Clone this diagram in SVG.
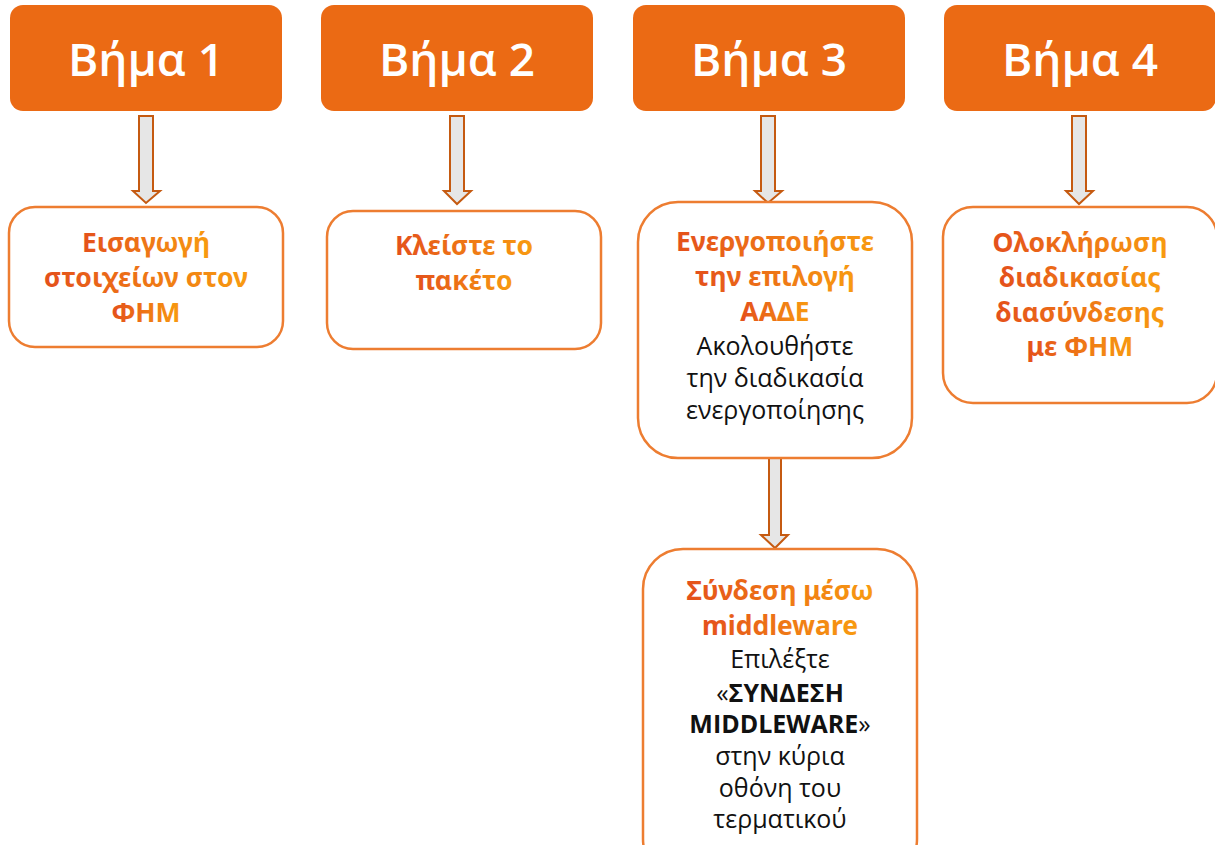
<svg xmlns="http://www.w3.org/2000/svg" width="1215" height="845" viewBox="0 0 1215 845">
<defs>
<linearGradient id="og" x1="0" y1="0" x2="1" y2="0">
<stop offset="0" stop-color="#E4501B"/>
<stop offset="1" stop-color="#F89B10"/>
</linearGradient>
<style>
.hdr{fill:#EB6A14}
.htx{font-family:"Open Sans","Noto Sans",sans-serif;font-size:46px;font-weight:600;fill:#fff;text-anchor:middle}
.box{fill:#fff;stroke:#ED7D31;stroke-width:2.5}
.arr{fill:#E6E6E6;stroke:#C55A11;stroke-width:2}
.ot{font-family:"Noto Sans","Open Sans",sans-serif;font-weight:bold;font-size:26.5px;fill:url(#og);text-anchor:middle}
.bt{font-family:"Open Sans","Noto Sans",sans-serif;font-size:25px;fill:#111;text-anchor:middle}
.bb{font-weight:bold}
</style>
</defs>
<g id="connectors">
<path class="arr" d="M139,116 h14 v75 h7 L146,203 L133,191 h6 Z"/>
<path class="arr" d="M450,116 h14 v75 h7 L457,204 L444,191 h6 Z"/>
<path class="arr" d="M761,116 h14 v75 h7 L768,203 L755,191 h6 Z"/>
<path class="arr" d="M1072,116 h14 v75 h7 L1079,204 L1066,191 h6 Z"/>
<path class="arr" d="M769,458 h12 v77 h7 L775,548 L761,535 h8 Z"/>
</g>
<g id="step1">
<rect class="hdr" x="10" y="5" width="272" height="106" rx="13"/>
<text class="htx" x="146" y="76">Βήμα 1</text>
</g>
<g id="step2">
<rect class="hdr" x="321" y="5" width="272" height="106" rx="13"/>
<text class="htx" x="457" y="76">Βήμα 2</text>
</g>
<g id="step3">
<rect class="hdr" x="633" y="5" width="272" height="106" rx="13"/>
<text class="htx" x="769" y="76">Βήμα 3</text>
</g>
<g id="step4">
<rect class="hdr" x="944" y="5" width="272" height="106" rx="13"/>
<text class="htx" x="1080" y="76">Βήμα 4</text>
</g>
<g id="box1">
<rect class="box" x="9" y="207" width="274" height="140" rx="26"/>
<text class="ot" x="146" y="252">Εισαγωγή</text>
<text class="ot" x="146" y="287">στοιχείων στον</text>
<text class="ot" x="146" y="322">ΦΗΜ</text>
</g>
<g id="box2">
<rect class="box" x="327" y="211" width="274" height="138" rx="26"/>
<text class="ot" x="464" y="255">Κλείστε το</text>
<text class="ot" x="464" y="290">πακέτο</text>
</g>
<g id="box3">
<rect class="box" x="638" y="202" width="274" height="256" rx="40"/>
<text class="ot" x="775" y="251">Ενεργοποιήστε</text>
<text class="ot" x="775" y="286">την επιλογή</text>
<text class="ot" x="775" y="321">ΑΑΔΕ</text>
<text class="bt" x="775" y="355">Ακολουθήστε</text>
<text class="bt" x="775" y="387">την διαδικασία</text>
<text class="bt" x="775" y="419">ενεργοποίησης</text>
</g>
<g id="box4">
<rect class="box" x="943" y="207" width="274" height="196" rx="30"/>
<text class="ot" x="1080" y="252">Ολοκλήρωση</text>
<text class="ot" x="1080" y="287">διαδικασίας</text>
<text class="ot" x="1080" y="322">διασύνδεσης</text>
<text class="ot" x="1080" y="356">με ΦΗΜ</text>
</g>
<g id="box5">
<rect class="box" x="643" y="549" width="274" height="330" rx="40"/>
<text class="ot" x="780" y="600">Σύνδεση μέσω</text>
<text class="ot" x="780" y="635">middleware</text>
<text class="bt" x="780" y="668">Επιλέξτε</text>
<text class="bt" x="780" y="702">«<tspan class="bb">ΣΥΝΔΕΣΗ</tspan></text>
<text class="bt" x="780" y="733"><tspan class="bb">MIDDLEWARE</tspan>»</text>
<text class="bt" x="780" y="765">στην κύρια</text>
<text class="bt" x="780" y="797">οθόνη του</text>
<text class="bt" x="780" y="828">τερματικού</text>
</g>
</svg>
